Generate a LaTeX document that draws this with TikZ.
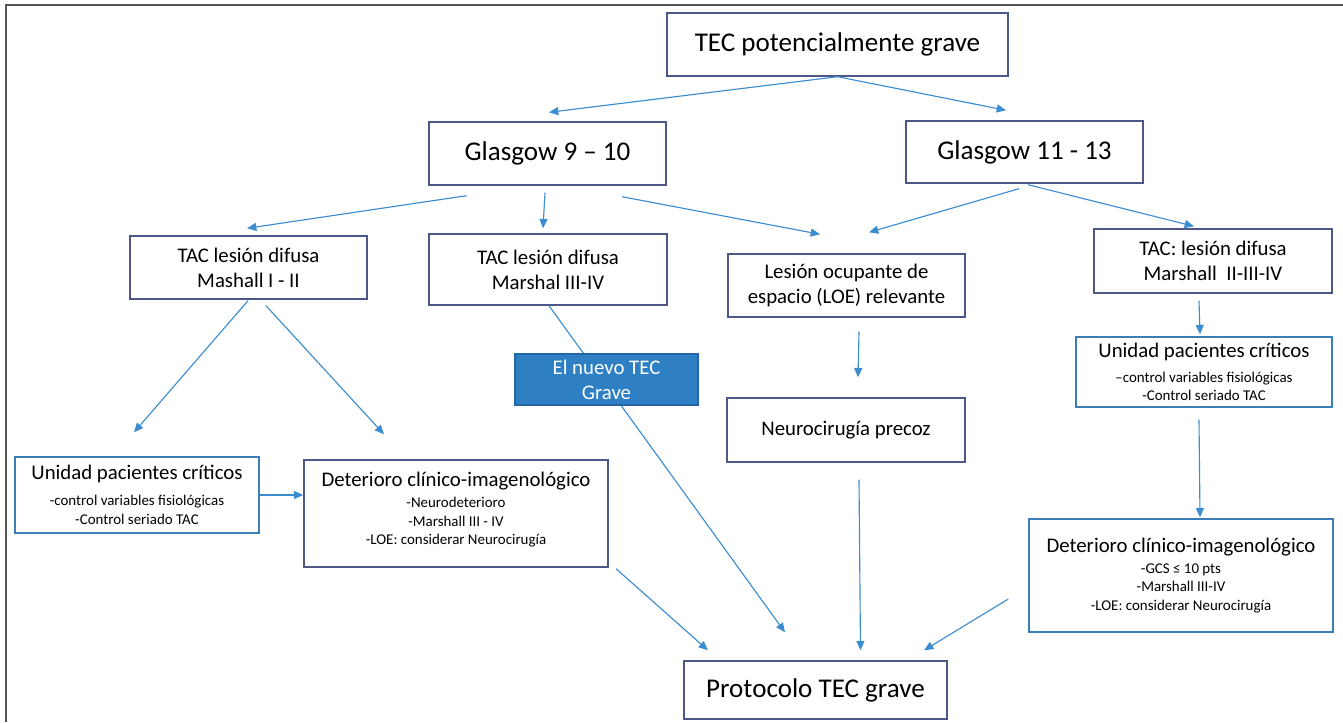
\documentclass[tikz,border=0pt]{standalone}
\usepackage{fontspec}
\setmainfont{Carlito}
\usetikzlibrary{arrows.meta,calc}
\definecolor{arrowc}{HTML}{3C8DD0}
\definecolor{boxdark}{HTML}{4E5888}
\definecolor{boxblue}{HTML}{3D7DBA}
\definecolor{nuevofill}{HTML}{2F7FC4}
\definecolor{nuevodraw}{HTML}{2565A3}
\definecolor{framec}{HTML}{555555}
\newcommand{\bigf}{\fontsize{20.3}{24}\selectfont}
\newcommand{\midf}{\fontsize{15.6}{18.8}\selectfont}
\newcommand{\smallf}{\fontsize{11.2}{14}\selectfont}
\begin{document}
\begin{tikzpicture}[x=0.75pt,y=-0.75pt,
  box/.style={draw=boxdark, line width=1.05pt, fill=white, inner sep=0pt, align=center, text=black},
  bbox/.style={box, draw=boxblue},
  sz/.style 2 args={minimum width=#1*0.75pt, minimum height=#2*0.75pt},
  conn/.style={draw=arrowc, line width=0.85pt, -{Triangle[length=7pt,width=6pt]}},
]
\useasboundingbox (0,0) rectangle (1343,722);
\fill[white] (0,0) rectangle (1343,722);
\draw[framec, line width=1.2pt] (6,722) -- (6,5) -- (1343,5);

% nodes
\node[box, sz={341}{63}, font=\bigf] (top) at (837.5,44.5) {TEC potencialmente grave};
\node[box, sz={237}{63}, font=\bigf] (g910) at (547.5,153.5) {Glasgow 9 – 10};
\node[box, sz={237}{62}, font=\bigf] (g1113) at (1024.5,152) {Glasgow 11 - 13};
\node[box, sz={237}{63}, font=\midf] (tac1) at (248.5,267.5) {TAC lesión difusa\\Mashall I - II};
\node[box, sz={238}{71}, font=\midf] (tac2) at (548,269.5) {TAC lesión difusa\\Marshal III-IV};
\node[box, sz={237}{63}, font=\midf] (loe) at (846.5,285.5) {Lesión ocupante de\\espacio (LOE) relevante};
\node[box, sz={238}{64}, font=\midf] (tac3) at (1213,261) {TAC: lesión difusa\\Marshall\ \ II-III-IV};
\node[bbox, sz={256}{70}, font=\smallf] (upc2) at (1204,372) {{\midf Unidad pacientes críticos}\\[4.5pt]–control variables fisiológicas\\-Control seriado TAC};
\node[bbox, sz={244}{76}, font=\smallf] (upc1) at (137,495) {{\midf Unidad pacientes críticos}\\[5.5pt]-control variables fisiológicas\\-Control seriado TAC};
\node[box, sz={304}{107}] (det1) at (456,513.5) {};
\node[font=\smallf, align=center, inner sep=0pt] (det1t) at (456,510) {\fontsize{11.2}{13.75}\selectfont{\midf Deterioro clínico-imagenológico}\\[1.5pt]-Neurodeterioro\\-Marshall III - IV\\-LOE: considerar Neurocirugía};
\node[box, sz={238}{64}, font=\midf] (neuro) at (846,430) {Neurocirugía precoz};
\node[bbox, sz={304}{113}, font=\smallf] (det2) at (1181,575.5) {\fontsize{11.2}{13.75}\selectfont{\midf Deterioro clínico-imagenológico}\\[1.5pt]-GCS ≤ 10 pts\\-Marshall III-IV\\-LOE: considerar Neurocirugía};
\node[box, sz={263}{58}, font=\bigf] (prot) at (815.5,690) {Protocolo TEC grave};

% connectors
\draw[conn] (top.south) -- ($(g910.north)+(1.5,-9)$);
\draw[conn] (top.south) -- ($(g1113.north)+(-18.5,-10)$);
\draw[conn] ($(g910.south)+(-81,10)$) -- ($(tac1.north)+(-1.5,-7)$);
\draw[conn] ($(g910.south)+(-2.5,7)$) -- ($(tac2.north)+(-5,-5)$);
\draw[conn] ($(g910.south)+(74.5,11)$) -- ($(loe.north)+(-26.5,-19)$);
\draw[conn] ($(g1113.south)+(-5.5,5)$) -- ($(loe.north)+(22.5,-21)$);
\draw[conn] ($(g1113.south)+(3.5,1)$) -- ($(tac3.north)+(-19,-2)$);
\draw[conn] ($(tac1.south)+(-0.5,1)$) -- ($(upc1.north)+(-3,-24)$);
\draw[conn] ($(tac1.south)+(17.5,6)$) -- ($(det1.north)+(-72,-25)$);
\draw[conn] (upc1.east) -- (det1.west |- upc1.east);
\draw[conn] ($(tac2.south)+(1,0)$) -- ($(prot.north)+(-30.5,-28)$);
\draw[conn] ($(det1.south)+(160,1)$) -- ($(prot.north)+(-107.5,-10)$);
\draw[conn] ($(loe.south)+(12.5,14)$) -- ($(neuro.north)+(12,-20)$);
\draw[conn] ($(neuro.south)+(13,17)$) -- ($(prot.north)+(45,-10)$);
\draw[conn] ($(det2.west)+(-20,23.5)$) -- ($(prot.north)+(108.5,-10)$);
\draw[conn] ($(tac3.south)+(-14,7)$) -- ($(upc2.north)+(-4,-2)$);
\draw[conn] ($(upc2.south)+(-5,12)$) -- ($(det2.north)+(19,-1)$);

% blue box on top of the line
\node[box, draw=nuevodraw, fill=nuevofill, text=white, sz={183}{51}, font=\midf] (nuevo) at (606.5,379.5) {El nuevo TEC\\Grave};
\end{tikzpicture}
\end{document}
